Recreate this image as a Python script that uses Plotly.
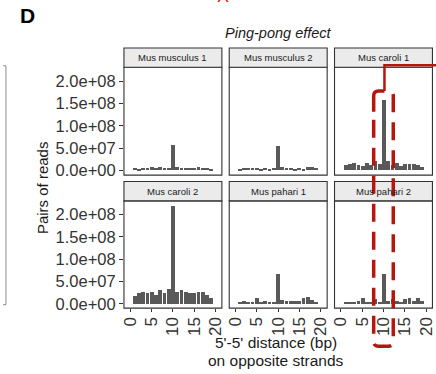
import plotly.graph_objects as go

# ---------------- data ----------------
distance = list(range(1, 20))
panel_titles = ["Mus musculus 1", "Mus musculus 2", "Mus caroli 1",
                "Mus caroli 2", "Mus pahari 1", "Mus pahari 2"]
mus_musculus_1 = [5e6, 4e6, 5e6, 6e6, 8e6, 5e6, 7e6, 5e6, 5e6, 5.6e7,
                  8e6, 6e6, 6e6, 5e6, 6e6, 7e6, 5e6, 5e6, 4e6]
mus_musculus_2 = [4e6, 5e6, 5e6, 5e6, 6e6, 4e6, 5e6, 4e6, 6e6, 5.5e7,
                  8e6, 6e6, 5e6, 4e6, 5e6, 4e6, 7e6, 7e6, 5e6]
mus_caroli_1 = [1.2e7, 1.4e7, 1.6e7, 1.3e7, 1.0e7, 1.7e7, 1.2e7, 2.0e7, 1.5e7, 1.58e8,
                2.0e7, 1.3e7, 1.7e7, 1.0e7, 1.4e7, 1.5e7, 1.5e7, 1.2e7, 8e6]
mus_caroli_2 = [1.85e7, 2.35e7, 2.7e7, 2.35e7, 2.7e7, 1.9e7, 3.2e7, 2.35e7, 3.3e7, 2.19e8,
                2.6e7, 3.2e7, 2.7e7, 2.35e7, 2.35e7, 2.7e7, 2.7e7, 2.0e7, 1.3e7]
mus_pahari_1 = [5e6, 6e6, 5e6, 5e6, 1.3e7, 5e6, 6e6, 5e6, 4e6, 6.7e7,
                9e6, 7e6, 6e6, 6e6, 6e6, 1.3e7, 1.6e7, 9e6, 5e6]
mus_pahari_2 = [4e6, 4e6, 5e6, 6e6, 1.3e7, 5e6, 5e6, 1.0e7, 5e6, 6.7e7,
                6e6, 1.2e7, 6e6, 5e6, 1.0e7, 1.3e7, 7e6, 1.4e7, 6e6]
series = [mus_musculus_1, mus_musculus_2, mus_caroli_1,
          mus_caroli_2, mus_pahari_1, mus_pahari_2]

x_tickvals = [0, 5, 10, 15, 20]
y_tickvals = [0, 5e7, 1e8, 1.5e8, 2e8]
y_ticktext = ["0.0e+00", "5.0e+07", "1.0e+08", "1.5e+08", "2.0e+08"]

# ---------------- geometry helpers ----------------
W, H = 436, 374
def fx(x):
    return x / W
def fy(y):
    return 1 - y / H

FONT = "Liberation Sans, Arial, Helvetica, sans-serif"
BAR = "#595959"
DARK = "#333333"
RED = "#B5170E"

col_x = [(123.5, 223.5), (231.0, 331.0), (338.5, 438.5)]
row_panel = [(68.0, 177.0), (203.0, 311.5)]
row_strip = [(48.5, 68.0), (183.5, 203.0)]
px_per_unit = 100.0 / 23.0
y_range = [-1.0e7, 2.31e8]

fig = go.Figure()
layout = dict(
    width=W, height=H, autosize=False,
    margin=dict(l=0, r=0, t=0, b=0, pad=0),
    paper_bgcolor="white", plot_bgcolor="white",
    showlegend=False, bargap=0,
    font=dict(family=FONT, color=DARK),
)
shapes = []
annotations = []

for i, (title, vals) in enumerate(zip(panel_titles, series)):
    r, c = divmod(i, 3)
    n = i + 1
    xa = "x" if n == 1 else f"x{n}"
    ya = "y" if n == 1 else f"y{n}"
    fig.add_trace(go.Bar(x=distance, y=vals, width=0.9, marker=dict(color=BAR, line=dict(width=0)),
                         xaxis=xa, yaxis=ya, hoverinfo="skip"))
    x0, x1 = col_x[c]
    dx1 = min(x1, W)
    xr = [-1.5, -1.5 + (dx1 - x0) / px_per_unit]
    py0, py1 = row_panel[r]
    layout["xaxis" if n == 1 else f"xaxis{n}"] = dict(
        domain=[fx(x0), fx(dx1)], range=xr, anchor=ya,
        tickvals=x_tickvals, ticktext=[str(v) for v in x_tickvals],
        showticklabels=(r == 1), ticks="outside" if r == 1 else "",
        ticklen=3, tickwidth=1, tickcolor=DARK, tickangle=-90,
        ticklabeloverflow="allow", ticklabelstandoff=-2,
        tickfont=dict(family=FONT, size=17, color=DARK),
        showgrid=False, zeroline=False, showline=False, fixedrange=True,
    )
    layout["yaxis" if n == 1 else f"yaxis{n}"] = dict(
        domain=[fy(py1), fy(py0)], range=y_range, anchor=xa,
        tickvals=y_tickvals, ticktext=y_ticktext,
        showticklabels=(c == 0), ticks="outside" if c == 0 else "",
        ticklen=4, tickwidth=1, tickcolor=DARK,
        tickfont=dict(family=FONT, size=16.5, color=DARK),
        showgrid=False, zeroline=False, showline=False, fixedrange=True,
    )
    # panel border
    shapes.append(dict(type="rect", xref="paper", yref="paper",
                       x0=fx(x0), x1=fx(x1), y0=fy(py1), y1=fy(py0),
                       line=dict(color=DARK, width=1.1), fillcolor="rgba(0,0,0,0)", layer="above"))
    # strip
    s0, s1 = row_strip[r]
    shapes.append(dict(type="rect", xref="paper", yref="paper",
                       x0=fx(x0), x1=fx(x1), y0=fy(s1), y1=fy(s0),
                       line=dict(color=DARK, width=1.1), fillcolor="#EBEBEB", layer="above"))
    annotations.append(dict(text=title, xref="paper", yref="paper",
                            x=fx((x0 + x1) / 2), y=fy((s0 + s1) / 2),
                            xanchor="center", yanchor="middle", showarrow=False,
                            font=dict(family=FONT, size=9.5, color="#1A1A1A")))

# titles and labels
annotations += [
    dict(text="<i>Ping-pong effect</i>", xref="paper", yref="paper", x=fx(281), y=fy(33.5),
         xanchor="center", yanchor="middle", showarrow=False,
         font=dict(family=FONT, size=14.5, color="#1A1A1A")),
    dict(text="<b>D</b>", xref="paper", yref="paper", x=fx(25.5), y=fy(16),
         xanchor="center", yanchor="middle", showarrow=False,
         font=dict(family=FONT, size=21, color="black")),
    dict(text="Pairs of reads", xref="paper", yref="paper", x=fx(41), y=fy(190),
         xanchor="center", yanchor="middle", showarrow=False, textangle=-90,
         font=dict(family=FONT, size=15, color="#1A1A1A")),
    dict(text="5'-5' distance (bp)", xref="paper", yref="paper", x=fx(279), y=fy(346.5),
         xanchor="center", yanchor="middle", showarrow=False,
         font=dict(family=FONT, size=15.5, color="#1A1A1A")),
    dict(text="on opposite strands", xref="paper", yref="paper", x=fx(279), y=fy(364.5),
         xanchor="center", yanchor="middle", showarrow=False,
         font=dict(family=FONT, size=15.5, color="#1A1A1A")),
    dict(text="X", xref="paper", yref="paper", x=fx(225), y=fy(-4),
         xanchor="center", yanchor="middle", showarrow=False,
         font=dict(family=FONT, size=18, color="#E8231A")),
]

def path(points_cmds):
    out = []
    for cmd, pts in points_cmds:
        out.append(cmd + " ".join(f"{fx(a):.5f},{fy(b):.5f}" for a, b in pts))
    return " ".join(out)

# gray bracket at left (edge of neighbouring panel)
shapes.append(dict(type="path", xref="paper", yref="paper",
                   path=path([("M", [(0, 66.5)]), ("L", [(3, 66.5)]), ("L", [(3, 308)]), ("L", [(0, 308)])]),
                   line=dict(color="#8C8C8C", width=1), layer="above"))

# red highlight: connector
shapes.append(dict(type="path", xref="paper", yref="paper",
                   path=path([("M", [(389.5, 92)]), ("L", [(389.5, 66)]), ("L", [(445, 66)])]),
                   line=dict(color=RED, width=2.5), layer="above"))
# red highlight: solid top-left piece of the box
shapes.append(dict(type="path", xref="paper", yref="paper",
                   path=path([("M", [(389.5, 92)]), ("L", [(383.5, 92)]),
                              ("Q", [(378.5, 92), (378.5, 97)]), ("L", [(378.5, 113)])]),
                   line=dict(color=RED, width=3.5), layer="above"))
# red highlight: dashed rest of the box
shapes.append(dict(type="path", xref="paper", yref="paper",
                   path=path([("M", [(378.5, 121)]), ("L", [(378.5, 345)]),
                              ("Q", [(378.5, 350), (383.5, 350)]), ("L", [(393.5, 350)]),
                              ("Q", [(398.5, 350), (398.5, 345)]), ("L", [(398.5, 97)]),
                              ("Q", [(398.5, 92), (393.5, 92)]), ("L", [(389.5, 92)])]),
                   line=dict(color=RED, width=3.5, dash="18px,10px"), layer="above"))

layout["shapes"] = shapes
layout["annotations"] = annotations
fig.update_layout(**layout)
fig.write_html("out.html")
